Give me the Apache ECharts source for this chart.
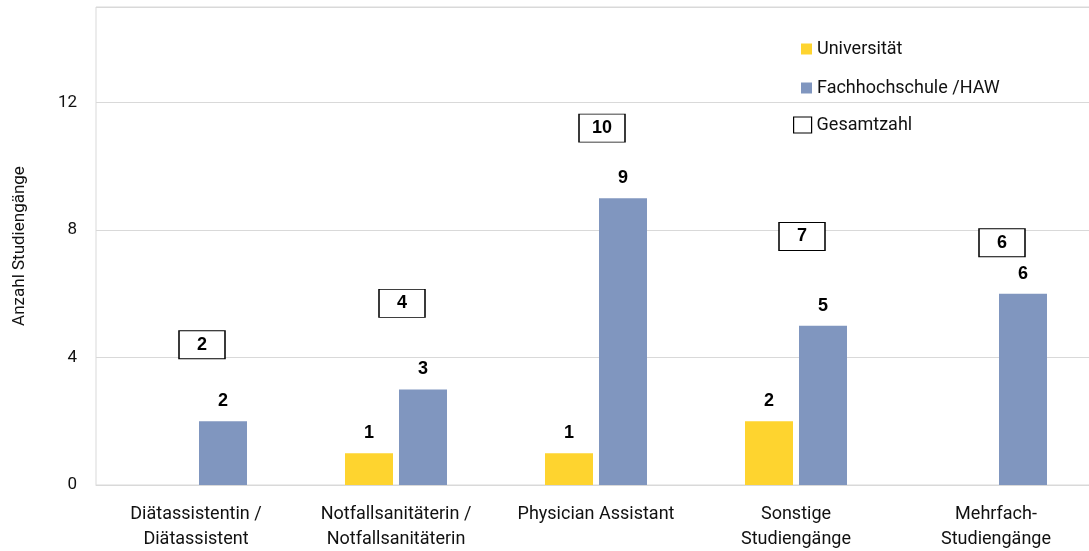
<!DOCTYPE html>
<html>
<head>
<meta charset="utf-8">
<script src="https://cdn.jsdelivr.net/npm/echarts@6/dist/echarts.min.js"></script>
<style>
  html, body { margin: 0; padding: 0; background: #fff; }
  #chart { width: 1089px; height: 551px; }
</style>
</head>
<body>
<div id="chart"></div>
<script>
// Studiengänge je Bereich
var categories = ['Diätassistentin /\nDiätassistent', 'Notfallsanitäterin /\nNotfallsanitäterin', 'Physician Assistant', 'Sonstige\nStudiengänge', 'Mehrfach-\nStudiengänge'];
var universitaet = [null, 1, 1, 2, null];
var fachhochschule = [2, 3, 9, 5, 6];
var gesamtzahl = [2, 4, 10, 7, 6];
// Höhe, auf der das Gesamtzahl-Kästchen steht (wie im Original verschoben)
var gesamtLabelHoehe = [4.4, 5.7, 11.2, 7.8, 7.6];
var yTicks = [0, 4, 8, 12];

var fontName = 'Roboto, "Liberation Sans", sans-serif';
var chart = echarts.init(document.getElementById('chart'));

var barLabel = {
  show: true,
  position: 'top',
  distance: 11,
  color: '#000',
  fontWeight: 'bold',
  fontSize: 18,
  fontFamily: '"Liberation Sans", Arial, sans-serif'
};

var option = {
  animation: false,
  textStyle: { fontFamily: fontName },
  grid: {
    left: 96, width: 1000, top: 7, bottom: 66,
    outerBoundsMode: 'none',
    show: true, borderColor: '#d9d9d9', borderWidth: 1
  },
  legend: [{
    orient: 'vertical',
    left: 796, top: 35,
    icon: 'rect',
    itemWidth: 11, itemHeight: 11,
    itemGap: 21,
    textStyle: { fontSize: 18, color: '#111', fontFamily: fontName },
    data: ['Universität', 'Fachhochschule /HAW']
  }, {
    left: 788, top: 111,
    itemWidth: 18, itemHeight: 16,
    itemGap: 5,
    textStyle: { fontSize: 18, color: '#111', fontFamily: fontName },
    data: [{ name: 'Gesamtzahl', icon: 'rect', itemStyle: { color: '#fff', borderColor: '#000', borderWidth: 1.2 } }]
  }],
  xAxis: {
    type: 'category',
    data: categories,
    axisTick: { show: false },
    axisLine: { lineStyle: { color: '#d9d9d9' } },
    axisLabel: { color: '#111', fontSize: 18, lineHeight: 25, margin: 17, interval: 0 }
  },
  yAxis: {
    type: 'value',
    min: yTicks[0], max: 15, interval: yTicks[1] - yTicks[0],
    name: 'Anzahl Studiengänge',
    nameLocation: 'middle',
    nameGap: 68,
    nameTextStyle: { color: '#111', fontSize: 17 },
    axisLine: { show: false },
    axisTick: { show: false },
    splitLine: { lineStyle: { color: '#d9d9d9' } },
    axisLabel: {
      color: '#111', fontSize: 17, margin: 19, showMaxLabel: false,
      formatter: function (v) { return yTicks.indexOf(v) >= 0 ? v : ''; }
    }
  },
  series: [{
    name: 'Universität',
    type: 'bar',
    barWidth: 48,
    barGap: '12.5%',
    itemStyle: { color: '#FED42F' },
    label: barLabel,
    data: universitaet
  }, {
    name: 'Fachhochschule /HAW',
    type: 'bar',
    barWidth: 48,
    barGap: '12.5%',
    itemStyle: { color: '#8096BF' },
    label: barLabel,
    data: fachhochschule
  }, {
    name: 'Gesamtzahl',
    type: 'scatter',
    symbol: 'rect',
    symbolSize: [46, 28],
    symbolOffset: [6, 0],
    itemStyle: { color: '#fff', borderColor: '#000', borderWidth: 1.2, opacity: 1 },
    label: {
      show: true,
      position: 'inside',
      color: '#000',
      fontWeight: 'bold',
      fontSize: 18,
      fontFamily: '"Liberation Sans", Arial, sans-serif',
      formatter: function (p) { return gesamtzahl[p.dataIndex]; }
    },
    data: categories.map(function (c, i) { return [c, gesamtLabelHoehe[i]]; })
  }]
};

chart.setOption(option);
</script>
</body>
</html>
